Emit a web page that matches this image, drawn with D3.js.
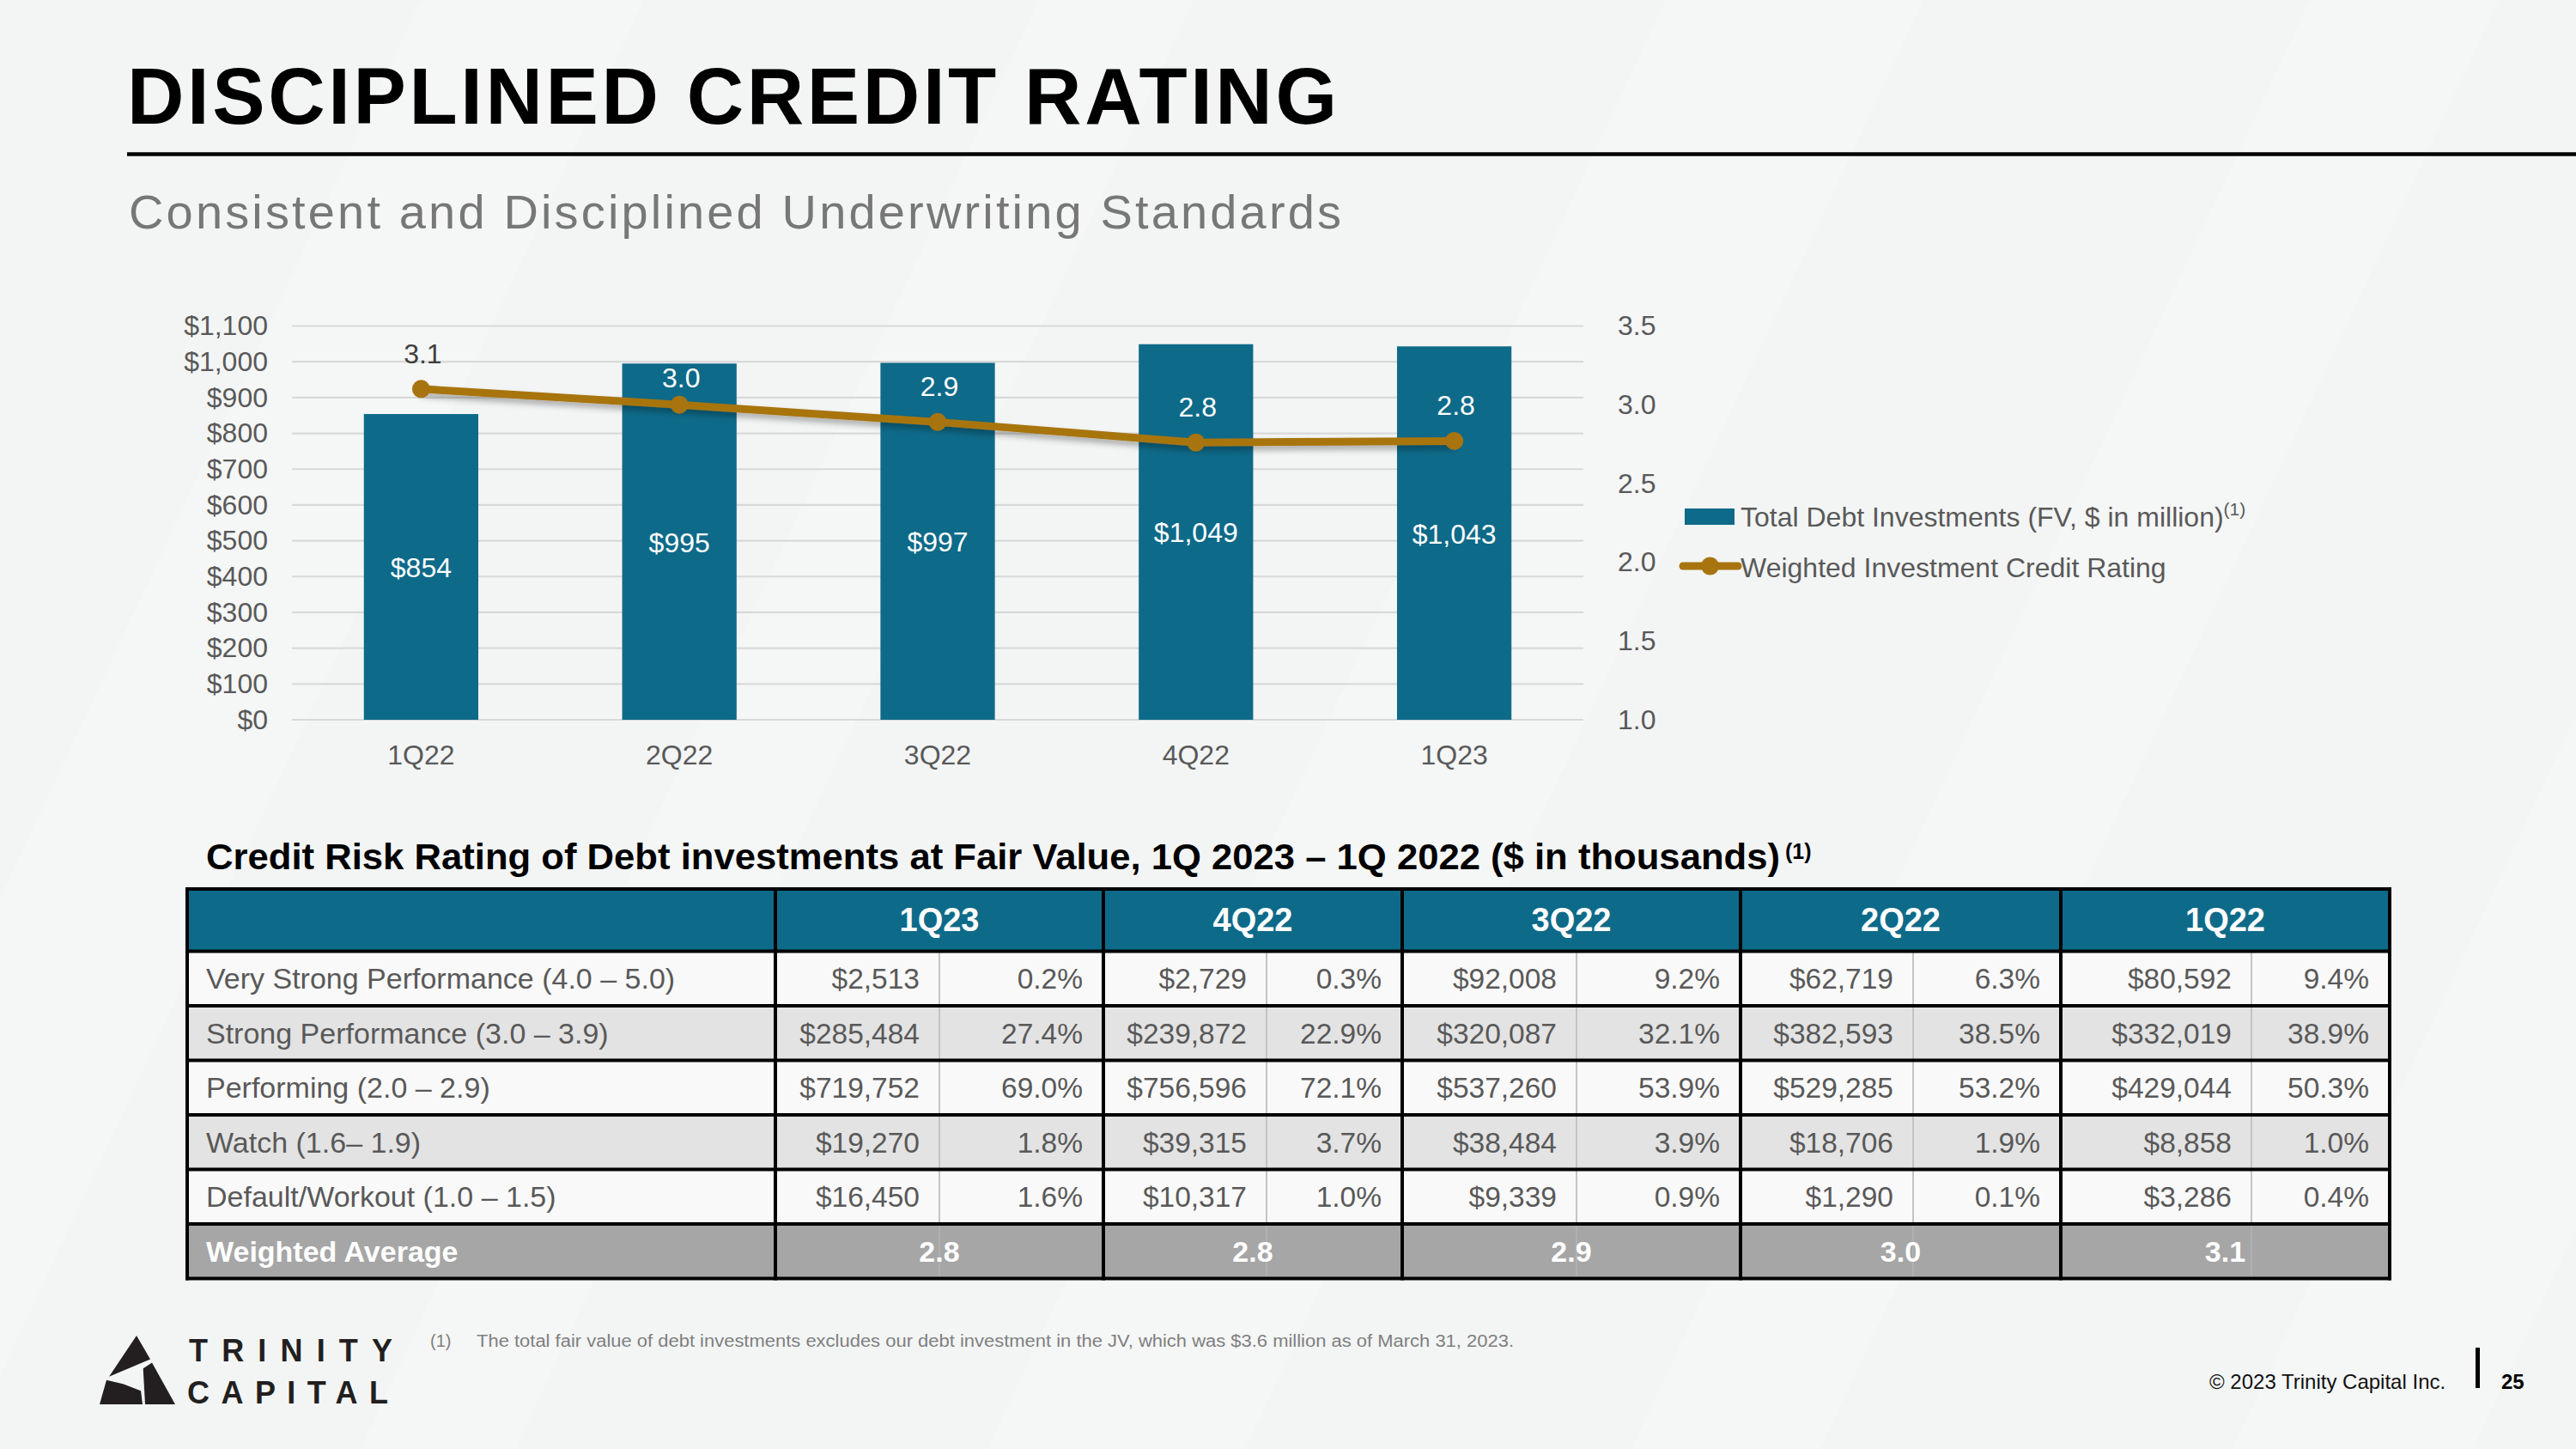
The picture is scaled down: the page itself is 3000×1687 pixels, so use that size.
<!DOCTYPE html>
<html><head><meta charset="utf-8">
<script src="https://cdn.jsdelivr.net/npm/d3@7"></script>
<style>
html,body{margin:0;padding:0;background:#f3f5f5;}
svg{display:block;}
text{font-family:"Liberation Sans",Arial,Helvetica,sans-serif;}
</style></head>
<body>
<svg id="c" width="3000" height="1687"></svg>
<script>
// ---------------- DATA ----------------
const categories = ["1Q22", "2Q22", "3Q22", "4Q22", "1Q23"];
const debtInvestments = [854, 995, 997, 1049, 1043];          // $ million
const creditRating = [3.10, 3.00, 2.89, 2.76, 2.77];          // weighted rating
const leftTicks = [0, 100, 200, 300, 400, 500, 600, 700, 800, 900, 1000, 1100];
const rightTicks = [1.0, 1.5, 2.0, 2.5, 3.0, 3.5];
const seriesNames = ["Total Debt Investments (FV, $ in million)", "Weighted Investment Credit Rating"];

const tableQuarters = ["1Q23", "4Q22", "3Q22", "2Q22", "1Q22"];
const ratingCategories = ["Very Strong Performance (4.0 – 5.0)", "Strong Performance (3.0 – 3.9)",
  "Performing (2.0 – 2.9)", "Watch (1.6– 1.9)", "Default/Workout (1.0 – 1.5)"];
const fv1Q23 = [2513, 285484, 719752, 19270, 16450];
const pct1Q23 = [0.2, 27.4, 69.0, 1.8, 1.6];
const fv4Q22 = [2729, 239872, 756596, 39315, 10317];
const pct4Q22 = [0.3, 22.9, 72.1, 3.7, 1.0];
const fv3Q22 = [92008, 320087, 537260, 38484, 9339];
const pct3Q22 = [9.2, 32.1, 53.9, 3.9, 0.9];
const fv2Q22 = [62719, 382593, 529285, 18706, 1290];
const pct2Q22 = [6.3, 38.5, 53.2, 1.9, 0.1];
const fv1Q22 = [80592, 332019, 429044, 8858, 3286];
const pct1Q22 = [9.4, 38.9, 50.3, 1.0, 0.4];
const weightedAverage = [2.8, 2.8, 2.9, 3.0, 3.1];

// ---------------- LAYOUT / STYLE ----------------
const W = 3000, H = 1687;
const TEAL = "#0e6a89", GOLD = "#a8740f", GRAY_TXT = "#595959";
const plot = {x0: 340, x1: 1844, yBase: 838, yTop: 379.5};
const labelNudge = [0, 10, 0, 0, 0];
const colEdges = [218, 903, 1094, 1285, 1475, 1633, 1836, 2027, 2228, 2400, 2622, 2783];
const rowEdges = [1035, 1107.5, 1171, 1234.5, 1298, 1361.5, 1425, 1488.5];

const svg = d3.select("#c");
const defs = svg.append("defs");
const flt = defs.append("filter").attr("id", "sh").attr("x", "-10%").attr("y", "-60%").attr("width", "120%").attr("height", "220%");
flt.append("feDropShadow").attr("dx", 0).attr("dy", 5).attr("stdDeviation", 3.5)
  .attr("flood-color", "#000").attr("flood-opacity", 0.3);

// background
svg.append("rect").attr("width", W).attr("height", H).attr("fill", "#f3f5f5");
const stripes = [[-300, 260], [420, 180], [1150, 300], [1900, 220], [2600, 280], [3200, 200]];
svg.append("g").selectAll("path").data(stripes).join("path")
  .attr("d", d => `M${d[0]},${H} L${d[0] + d[1]},${H} L${d[0] + d[1] + 790},0 L${d[0] + 790},0 Z`)
  .attr("fill", "#ffffff").attr("opacity", 0.18);

// ---------------- HEADER ----------------
svg.append("text").attr("x", 148).attr("y", 144).text("DISCIPLINED CREDIT RATING")
  .attr("font-size", 92).attr("font-weight", "bold").attr("fill", "#000")
  .attr("textLength", 1409).attr("lengthAdjust", "spacing");
svg.append("line").attr("x1", 148).attr("x2", W).attr("y1", 179.5).attr("y2", 179.5)
  .attr("stroke", "#000").attr("stroke-width", 4.5);
svg.append("text").attr("x", 150).attr("y", 266).text("Consistent and Disciplined Underwriting Standards")
  .attr("font-size", 56).attr("fill", "#777777")
  .attr("textLength", 1412).attr("lengthAdjust", "spacing");

// ---------------- CHART ----------------
const x = d3.scaleBand().domain(categories).range([plot.x0, plot.x1]).paddingInner(0.557).paddingOuter(0.2785);
const yL = d3.scaleLinear().domain([0, 1100]).range([plot.yBase, plot.yTop]);
const yR = d3.scaleLinear().domain([1.0, 3.5]).range([plot.yBase, plot.yTop]);
const cx = c => x(c) + x.bandwidth() / 2;

const chart = svg.append("g");
chart.append("g").selectAll("line").data(leftTicks).join("line")
  .attr("x1", plot.x0).attr("x2", plot.x1)
  .attr("y1", d => yL(d)).attr("y2", d => yL(d))
  .attr("stroke", "#d9d9d9").attr("stroke-width", 2.2);

function styleAxis(g) {
  g.select(".domain").remove();
  g.selectAll("text").attr("font-size", 32).attr("fill", GRAY_TXT)
    .attr("font-family", '"Liberation Sans",Arial,sans-serif');
}
chart.append("g").attr("transform", `translate(${plot.x0},0)`)
  .call(d3.axisLeft(yL).tickValues(leftTicks).tickFormat(d => "$" + d3.format(",")(d)).tickSize(0).tickPadding(28))
  .call(styleAxis);
chart.append("g").attr("transform", `translate(${plot.x1},0)`)
  .call(d3.axisRight(yR).tickValues(rightTicks).tickFormat(d3.format(".1f")).tickSize(0).tickPadding(40))
  .call(styleAxis);
chart.append("g").attr("transform", `translate(0,${plot.yBase})`)
  .call(d3.axisBottom(x).tickSize(0).tickPadding(29))
  .call(styleAxis);

// bars
chart.append("g").selectAll("rect").data(debtInvestments).join("rect")
  .attr("x", (d, i) => x(categories[i])).attr("width", x.bandwidth())
  .attr("y", d => yL(d)).attr("height", d => plot.yBase - yL(d))
  .attr("fill", TEAL);
chart.append("g").selectAll("text").data(debtInvestments).join("text")
  .attr("x", (d, i) => cx(categories[i]))
  .attr("y", d => (yL(d) + plot.yBase) / 2 + 12)
  .attr("text-anchor", "middle").attr("font-size", 32).attr("fill", "#ffffff")
  .text(d => "$" + d3.format(",")(d));

// line
const line = d3.line().x((d, i) => cx(categories[i])).y(d => yR(d));
chart.append("path").datum(creditRating).attr("d", line)
  .attr("fill", "none").attr("stroke", GOLD).attr("stroke-width", 9)
  .attr("stroke-linejoin", "round").attr("filter", "url(#sh)");
chart.append("g").selectAll("circle").data(creditRating).join("circle")
  .attr("cx", (d, i) => cx(categories[i])).attr("cy", d => yR(d)).attr("r", 10.5)
  .attr("fill", GOLD);
chart.append("g").selectAll("text").data(creditRating).join("text")
  .attr("x", (d, i) => cx(categories[i]) + 2)
  .attr("y", (d, i) => yR(d) - 30 + labelNudge[i])
  .attr("text-anchor", "middle").attr("font-size", 32)
  .attr("fill", (d, i) => (yR(d) - 30 + labelNudge[i] - 11) < yL(debtInvestments[i]) ? "#404040" : "#ffffff")
  .text(d => d3.format(".1f")(d));

// legend
const lg = svg.append("g");
lg.append("rect").attr("x", 1962).attr("y", 592).attr("width", 58).attr("height", 19).attr("fill", TEAL);
const t1 = lg.append("text").attr("x", 2027).attr("y", 613).attr("font-size", 32).attr("fill", GRAY_TXT);
t1.append("tspan").text(seriesNames[0]);
t1.append("tspan").attr("font-size", 21).attr("dy", -13).text("(1)");
lg.append("line").attr("x1", 1960).attr("x2", 2024).attr("y1", 659).attr("y2", 659)
  .attr("stroke", GOLD).attr("stroke-width", 9).attr("stroke-linecap", "round");
lg.append("circle").attr("cx", 1991.5).attr("cy", 659).attr("r", 10.5).attr("fill", GOLD);
lg.append("text").attr("x", 2027).attr("y", 671.5).attr("font-size", 32).attr("fill", GRAY_TXT).text(seriesNames[1]);

// ---------------- TABLE ----------------
const tt = svg.append("text").attr("x", 240).attr("y", 1012).attr("font-size", 42)
  .attr("font-weight", "bold").attr("fill", "#000");
tt.append("tspan").text("Credit Risk Rating of Debt investments at Fair Value, 1Q 2023 – 1Q 2022 ($ in thousands)")
  .attr("textLength", 1833).attr("lengthAdjust", "spacingAndGlyphs");
tt.append("tspan").attr("x", 2079).attr("y", 1000).attr("font-size", 25).text("(1)");

const fvs = [fv1Q23, fv4Q22, fv3Q22, fv2Q22, fv1Q22];
const pcts = [pct1Q23, pct4Q22, pct3Q22, pct2Q22, pct1Q22];
const tbl = svg.append("g");
const tL = colEdges[0], tR = colEdges[colEdges.length - 1];

// fills
tbl.append("rect").attr("x", tL).attr("y", rowEdges[0]).attr("width", tR - tL)
  .attr("height", rowEdges[1] - rowEdges[0]).attr("fill", TEAL);
tbl.append("g").selectAll("rect").data(ratingCategories).join("rect")
  .attr("x", tL).attr("width", tR - tL)
  .attr("y", (d, i) => rowEdges[i + 1]).attr("height", (d, i) => rowEdges[i + 2] - rowEdges[i + 1])
  .attr("fill", (d, i) => i % 2 === 0 ? "#f9f9f9" : "#e3e3e3");
tbl.append("rect").attr("x", tL).attr("y", rowEdges[6]).attr("width", tR - tL)
  .attr("height", rowEdges[7] - rowEdges[6]).attr("fill", "#a6a6a6");

// thin sub-dividers
const subCols = [2, 4, 6, 8, 10].map(k => colEdges[k]);
tbl.append("g").selectAll("line").data(subCols).join("line")
  .attr("x1", d => d).attr("x2", d => d).attr("y1", rowEdges[1]).attr("y2", rowEdges[6])
  .attr("stroke", "#c4c4c4").attr("stroke-width", 2);
tbl.append("g").selectAll("line").data(subCols).join("line")
  .attr("x1", d => d).attr("x2", d => d).attr("y1", rowEdges[6]).attr("y2", rowEdges[7])
  .attr("stroke", "#b3b3b3").attr("stroke-width", 1.5);

// header texts
const groupL = [1, 3, 5, 7, 9].map(k => colEdges[k]);
const groupR = [3, 5, 7, 9, 11].map(k => colEdges[k]);
tbl.append("g").selectAll("text").data(tableQuarters).join("text")
  .attr("x", (d, i) => (groupL[i] + groupR[i]) / 2)
  .attr("y", (rowEdges[0] + rowEdges[1]) / 2 + 13)
  .attr("text-anchor", "middle").attr("font-size", 38).attr("font-weight", "bold").attr("fill", "#fff")
  .text(d => d);

// body rows
const fmtFV = d => "$" + d3.format(",")(d);
const fmtPct = d => d3.format(".1f")(d) + "%";
ratingCategories.forEach((lab, r) => {
  const yc = (rowEdges[r + 1] + rowEdges[r + 2]) / 2 + 12;
  tbl.append("text").attr("x", 240).attr("y", yc).attr("font-size", 34).attr("fill", GRAY_TXT).text(lab);
  tableQuarters.forEach((q, qi) => {
    tbl.append("text").attr("x", colEdges[1 + qi * 2 + 1] - 23).attr("y", yc)
      .attr("text-anchor", "end").attr("font-size", 33.5).attr("fill", GRAY_TXT).text(fmtFV(fvs[qi][r]));
    tbl.append("text").attr("x", colEdges[1 + qi * 2 + 2] - 24).attr("y", yc)
      .attr("text-anchor", "end").attr("font-size", 33.5).attr("fill", GRAY_TXT).text(fmtPct(pcts[qi][r]));
  });
});
// weighted average row
const ywa = (rowEdges[6] + rowEdges[7]) / 2 + 12;
tbl.append("text").attr("x", 240).attr("y", ywa).attr("font-size", 34).attr("font-weight", "bold")
  .attr("fill", "#fff").text("Weighted Average");
tbl.append("g").selectAll("text").data(weightedAverage).join("text")
  .attr("x", (d, i) => (groupL[i] + groupR[i]) / 2).attr("y", ywa)
  .attr("text-anchor", "middle").attr("font-size", 34).attr("font-weight", "bold").attr("fill", "#fff")
  .text(d => d3.format(".1f")(d));

// thick black grid
tbl.append("g").selectAll("line").data(rowEdges).join("line")
  .attr("x1", tL - 2).attr("x2", tR + 2).attr("y1", d => d).attr("y2", d => d)
  .attr("stroke", "#000").attr("stroke-width", 4);
const groupEdges = [0, 1, 3, 5, 7, 9, 11].map(k => colEdges[k]);
tbl.append("g").selectAll("line").data(groupEdges).join("line")
  .attr("x1", d => d).attr("x2", d => d).attr("y1", rowEdges[0] - 2).attr("y2", rowEdges[7] + 2)
  .attr("stroke", "#000").attr("stroke-width", 4);

// ---------------- FOOTER ----------------
svg.append("text").attr("x", 501).attr("y", 1568).attr("font-size", 20).attr("fill", "#7f7f7f").text("(1)");
svg.append("text").attr("x", 555).attr("y", 1568).attr("font-size", 20).attr("fill", "#7f7f7f")
  .attr("textLength", 1208).attr("lengthAdjust", "spacingAndGlyphs")
  .text("The total fair value of debt investments excludes our debt investment in the JV, which was $3.6 million as of March 31, 2023.");

// logo
const logo = svg.append("g").attr("fill", "#231f20");
const pieces = [
  [[159, 1555], [127, 1602.7], [175, 1582.5]],
  [[124, 1606.7], [116, 1635], [166, 1635], [164, 1619.3], [143.3, 1611.3]],
  [[177, 1586.5], [204, 1635], [169, 1635], [166.7, 1593.3]]
];
logo.selectAll("path").data(pieces).join("path").attr("d", d => "M" + d.join("L") + "Z");
svg.append("text").attr("x", 220).attr("y", 1584.5).attr("font-size", 36).attr("font-weight", "bold")
  .attr("fill", "#231f20").attr("textLength", 237).attr("lengthAdjust", "spacing").text("TRINITY");
svg.append("text").attr("x", 218).attr("y", 1633.5).attr("font-size", 36).attr("font-weight", "bold")
  .attr("fill", "#231f20").attr("textLength", 234).attr("lengthAdjust", "spacing").text("CAPITAL");

svg.append("text").attr("x", 2573).attr("y", 1617).attr("font-size", 24).attr("fill", "#111")
  .text("© 2023 Trinity Capital Inc.");
svg.append("rect").attr("x", 2883).attr("y", 1569).attr("width", 5).attr("height", 47).attr("fill", "#000");
svg.append("text").attr("x", 2913).attr("y", 1617).attr("font-size", 24).attr("font-weight", "bold")
  .attr("fill", "#000").text("25");
</script>
</body></html>
